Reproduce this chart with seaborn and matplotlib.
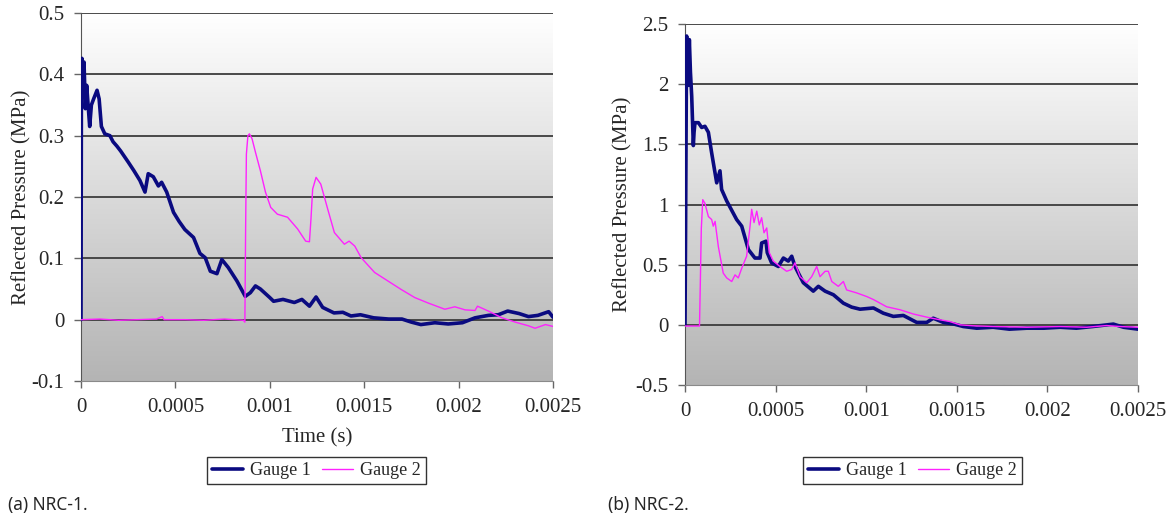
import numpy as np
import pandas as pd
import seaborn as sns
import matplotlib.pyplot as plt
from matplotlib.colors import LinearSegmentedColormap
from matplotlib.lines import Line2D

# ---- data (time in microseconds, pressure in MPa) ----
# (a) NRC-1
a_g1_t = [0, 2, 5, 10, 16, 23, 30, 46, 55, 67, 85, 96, 108, 126, 153, 170, 190, 210, 230,
          250, 280, 312, 339, 356, 383, 410, 427, 454, 490, 520, 550, 596, 630, 658, 685,
          720, 746, 780, 826, 870, 897, 924, 950, 1000, 1020, 1070, 1130, 1170, 1210, 1245,
          1280, 1340, 1387, 1430, 1480, 1550, 1630, 1700, 1750, 1800, 1874, 1945, 2020,
          2087, 2158, 2210, 2260, 2320, 2370, 2420, 2477, 2500]
a_g1_p = [0, 0.35, 0.426, 0.38, 0.42, 0.344, 0.382, 0.315, 0.35, 0.36, 0.374, 0.36, 0.315,
          0.303, 0.30, 0.29, 0.283, 0.275, 0.266, 0.257, 0.243, 0.227, 0.208, 0.238, 0.233,
          0.218, 0.224, 0.208, 0.175, 0.16, 0.147, 0.134, 0.108, 0.101, 0.079, 0.075, 0.098,
          0.085, 0.063, 0.038, 0.044, 0.055, 0.05, 0.036, 0.03, 0.033, 0.028, 0.033, 0.022,
          0.037, 0.02, 0.011, 0.012, 0.006, 0.008, 0.003, 0.001, 0.001, -0.004, -0.008,
          -0.005, -0.007, -0.005, 0.003, 0.007, 0.008, 0.014, 0.01, 0.005, 0.007, 0.013, 0.004]
a_g2_t = [0, 100, 200, 300, 400, 430, 440, 550, 650, 760, 860, 868, 872, 876, 884, 892, 906,
          924, 950, 977, 1005, 1040, 1094, 1147, 1190, 1210, 1218, 1227, 1245, 1270, 1307,
          1342, 1395, 1420, 1450, 1484, 1555, 1626, 1697, 1768, 1840, 1927, 1980, 2034, 2087,
          2100, 2158, 2230, 2300, 2370, 2405, 2460, 2500]
a_g2_p = [0, 0.001, -0.001, 0.0, 0.001, 0.005, 0.0, 0.0, -0.001, 0.001, -0.001, -0.004, 0.15,
          0.27, 0.30, 0.303, 0.295, 0.273, 0.243, 0.208, 0.183, 0.172, 0.167, 0.148, 0.128,
          0.127, 0.164, 0.213, 0.232, 0.221, 0.18, 0.142, 0.123, 0.128, 0.12, 0.101, 0.077,
          0.063, 0.049, 0.036, 0.027, 0.017, 0.021, 0.016, 0.015, 0.022, 0.014, 0.003, -0.004,
          -0.01, -0.014, -0.008, -0.011]

# (b) NRC-2
b_g1_t = [0, 3, 6, 9, 14, 18, 24, 30, 37, 46, 50, 55, 74, 92, 110, 129, 147, 175, 193, 202,
          230, 285, 313, 350, 386, 414, 423, 447, 454, 478, 515, 543, 570, 589, 607, 653, 708,
          736, 773, 819, 874, 920, 966, 1040, 1094, 1150, 1205, 1279, 1334, 1370, 1426, 1480,
          1536, 1610, 1700, 1790, 1886, 1980, 2070, 2160, 2250, 2364, 2420, 2500]
b_g1_p = [0, 0.75, 1.6, 2.40, 2.1, 1.99, 2.37, 2.1, 1.90, 1.49, 1.6, 1.68, 1.68, 1.64, 1.65,
          1.60, 1.43, 1.18, 1.28, 1.125, 1.03, 0.875, 0.82, 0.625, 0.555, 0.555, 0.68, 0.695,
          0.6, 0.515, 0.485, 0.555, 0.53, 0.57, 0.485, 0.35, 0.28, 0.32, 0.28, 0.25, 0.18,
          0.147, 0.13, 0.14, 0.097, 0.07, 0.078, 0.02, 0.02, 0.055, 0.02, 0.008, -0.014,
          -0.028, -0.02, -0.036, -0.028, -0.028, -0.02, -0.028, -0.014, 0.006, -0.02, -0.036]
b_g2_t = [0, 40, 80, 84, 90, 98, 110, 129, 147, 156, 166, 184, 211, 230, 258, 276, 294, 313,
          340, 359, 368, 381, 396, 410, 423, 436, 451, 465, 487, 524, 561, 589, 607, 635, 672,
          699, 727, 745, 773, 791, 810, 846, 874, 892, 948, 1003, 1040, 1113, 1187, 1260,
          1334, 1407, 1460, 1518, 1590, 1700, 1886, 2070, 2217, 2327, 2400, 2500]
b_g2_p = [-0.01, -0.01, -0.01, 0.3, 0.8, 1.04, 1.01, 0.90, 0.875, 0.82, 0.86, 0.65, 0.43, 0.39,
          0.36, 0.415, 0.39, 0.47, 0.57, 0.82, 0.96, 0.85, 0.945, 0.83, 0.89, 0.765, 0.805,
          0.6, 0.53, 0.485, 0.445, 0.46, 0.515, 0.40, 0.35, 0.40, 0.485, 0.40, 0.445, 0.445,
          0.36, 0.32, 0.36, 0.29, 0.265, 0.235, 0.21, 0.15, 0.125, 0.09, 0.064, 0.042, 0.028,
          0.0, -0.008, -0.014, -0.02, -0.014, -0.02, -0.006, -0.014, -0.02]

x_ticks = [0, 0.0005, 0.001, 0.0015, 0.002, 0.0025]
x_labels = ['0', '0.0005', '0.001', '0.0015', '0.002', '0.0025']
a_yticks = [-0.1, 0, 0.1, 0.2, 0.3, 0.4, 0.5]
a_ylabels = ['-0.1', '0', '0.1', '0.2', '0.3', '0.4', '0.5']
b_yticks = [-0.5, 0, 0.5, 1, 1.5, 2, 2.5]
b_ylabels = ['-0.5', '0', '0.5', '1', '1.5', '2', '2.5']

NAVY = '#0a0a80'
MAGENTA = '#ff22ff'

sns.set_style('white')
plt.rcParams['font.family'] = ['Liberation Serif', 'DejaVu Serif']

bg = LinearSegmentedColormap.from_list('bg', ['#ffffff', '#b4b4b4'])


def to_frame(t, p):
    return pd.DataFrame({'t': np.array(t) * 1e-6, 'p': p})


def panel(ax, g1, g2, yticks, ylabels):
    grad = np.linspace(0, 1, 256)[:, None]
    ax.imshow(grad, extent=[0, 1, 0, 1], transform=ax.transAxes, aspect='auto',
              cmap=bg, zorder=0)
    for y in yticks[1:]:
        ax.axhline(y, color='#3c3c3c', lw=1.3, zorder=1)
    sns.lineplot(data=g1, x='t', y='p', ax=ax, color=NAVY, lw=2.6,
                 estimator=None, sort=False, zorder=3)
    sns.lineplot(data=g2, x='t', y='p', ax=ax, color=MAGENTA, lw=1.0,
                 estimator=None, sort=False, zorder=4)
    ax.set_xlim(0, 0.0025)
    ax.set_ylim(yticks[0], yticks[-1])
    ax.set_xticks(x_ticks)
    ax.set_xticklabels(x_labels)
    ax.set_yticks(yticks)
    ax.set_yticklabels(ylabels)
    ax.tick_params(axis='both', labelsize=15, direction='out', length=5,
                   width=1, color='#666666', pad=7, left=True, bottom=True)
    for s in ['top', 'right']:
        ax.spines[s].set_visible(False)
    ax.spines['left'].set_color('#555555')
    ax.spines['bottom'].set_color('#8a8a8a')
    ax.set_xlabel('')
    ax.set_ylabel('Reflected Pressure (MPa)', fontsize=15)
    handles = [Line2D([], [], color=NAVY, lw=2.6), Line2D([], [], color=MAGENTA, lw=1.0)]
    return handles


fig = plt.figure(figsize=(11.73, 5.21), dpi=100)
ax1 = fig.add_axes([81 / 1173, 1 - 381 / 521, 472 / 1173, 368 / 521])
ax2 = fig.add_axes([685 / 1173, 1 - 385 / 521, 453 / 1173, 361 / 521])

h = panel(ax1, to_frame(a_g1_t, a_g1_p), to_frame(a_g2_t, a_g2_p), a_yticks, a_ylabels)
panel(ax2, to_frame(b_g1_t, b_g1_p), to_frame(b_g2_t, b_g2_p), b_yticks, b_ylabels)

ax1.yaxis.set_label_coords(-0.104, 0.5)
ax2.yaxis.set_label_coords(-0.117, 0.5)
ax1.set_xlabel('Time (s)', fontsize=15, labelpad=8)

for ax, cx in [(ax1, 316.5), (ax2, 912.5)]:
    leg = fig.legend(h, ['Gauge 1', 'Gauge 2'], loc='center',
                     bbox_to_anchor=(cx / 1173, 1 - 470.5 / 521), ncol=2,
                     fontsize=13, frameon=True, fancybox=False, edgecolor='black',
                     handlelength=1.7, columnspacing=0.6, handletextpad=0.4,
                     borderpad=0.3, borderaxespad=0)
    leg.get_frame().set_linewidth(1.0)

cap_font = ['Noto Sans', 'DejaVu Sans']
fig.text(8 / 1173, 1 - 505 / 521, '(a) NRC-1.', family=cap_font, fontsize=12.5, va='center')
fig.text(608 / 1173, 1 - 505 / 521, '(b) NRC-2.', family=cap_font, fontsize=12.5, va='center')

fig.savefig('out.png', dpi=100)
